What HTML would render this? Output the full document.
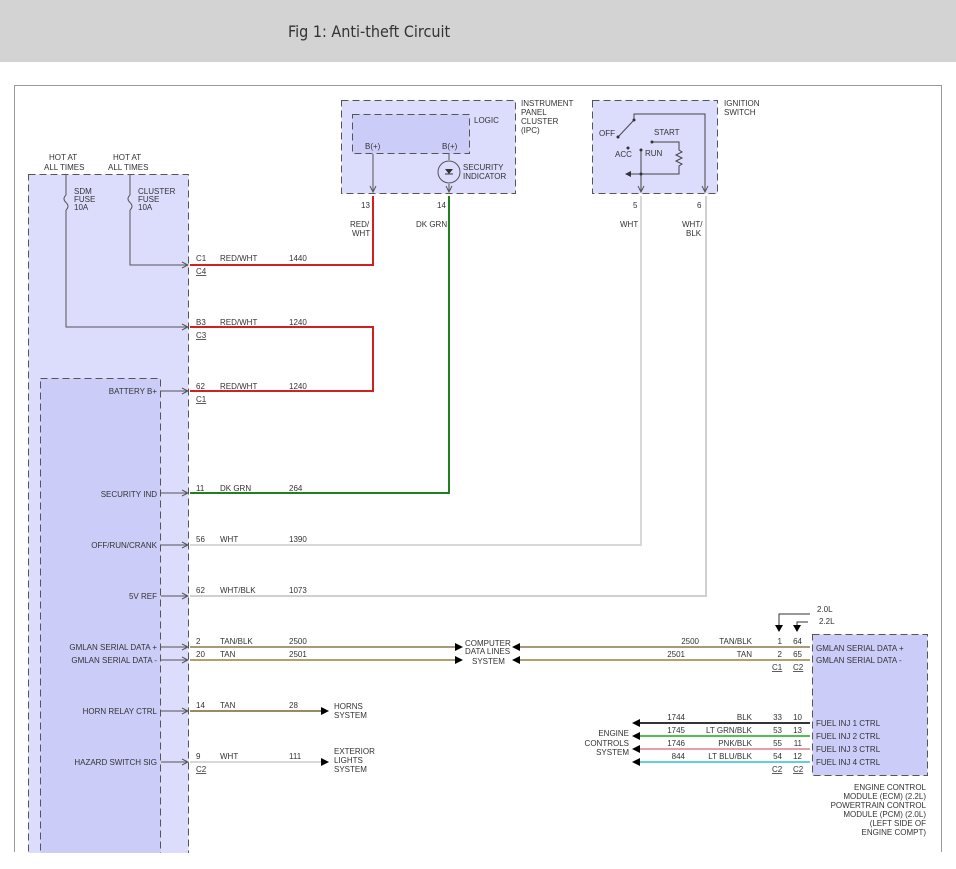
<!DOCTYPE html>
<html><head><style>
body{margin:0;width:956px;height:864px;background:#fff;overflow:hidden}
svg text{font-family:"Liberation Sans",sans-serif;font-size:8px;fill:#333}
</style></head><body>
<svg width="956" height="864" viewBox="0 0 956 864" xmlns="http://www.w3.org/2000/svg">
<defs>
<marker id="o" markerWidth="8" markerHeight="8" refX="7" refY="4" orient="auto" markerUnits="userSpaceOnUse"><path d="M1,1 L7,4 L1,7" fill="none" stroke="#555"/></marker>
</defs>
<rect x="0" y="0" width="956" height="62" fill="#d3d3d3"/>
<text x="288" y="37" style="fill:#333;font-family:'DejaVu Sans Condensed','DejaVu Sans',sans-serif;font-size:16px">Fig 1: Anti-theft Circuit</text>
<path d="M14.5,852 V85.5 H941.5 V852" fill="none" stroke="#999"/>

<rect x="28.5" y="174.5" width="160" height="690" fill="#dcdcfc" stroke="#555" stroke-dasharray="7,4"/>
<rect x="40.5" y="378.5" width="120" height="490" fill="#ccccf8" stroke="#555" stroke-dasharray="7,4"/>
<rect x="0" y="853" width="956" height="11" fill="#fff"/>
<text x="49" y="160">HOT AT</text><text x="44" y="170">ALL TIMES</text>
<text x="113" y="160">HOT AT</text><text x="108" y="170">ALL TIMES</text>
<path d="M66,174 V195 M66,210 V327 H188" stroke="#555" fill="none" marker-end="url(#o)"/>
<path d="M66,195 q-4,4 0,7.5 q4,4 0,7.5" stroke="#555" fill="none"/>
<path d="M130,174 V195 M130,210 V265 H188" stroke="#555" fill="none" marker-end="url(#o)"/>
<path d="M130,195 q-4,4 0,7.5 q4,4 0,7.5" stroke="#555" fill="none"/>
<text x="74" y="194">SDM</text><text x="74" y="202">FUSE</text><text x="74" y="210">10A</text>
<text x="138" y="194">CLUSTER</text><text x="138" y="202">FUSE</text><text x="138" y="210">10A</text>
<g stroke="#555" fill="none">
<path d="M161,391 H188" marker-end="url(#o)"/>
<path d="M161,493 H188" marker-end="url(#o)"/>
<path d="M161,545 H188" marker-end="url(#o)"/>
<path d="M161,596 H188" marker-end="url(#o)"/>
<path d="M161,647 H188" marker-end="url(#o)"/>
<path d="M161,660 H188" marker-end="url(#o)"/>
<path d="M161,711 H188" marker-end="url(#o)"/>
<path d="M161,762 H188" marker-end="url(#o)"/>
</g>
<g text-anchor="end">
<text x="157" y="394">BATTERY B+</text>
<text x="157" y="497">SECURITY IND</text>
<text x="157" y="548">OFF/RUN/CRANK</text>
<text x="157" y="599">5V REF</text>
<text x="157" y="650">GMLAN SERIAL DATA +</text>
<text x="157" y="663">GMLAN SERIAL DATA -</text>
<text x="157" y="714">HORN RELAY CTRL</text>
<text x="157" y="765">HAZARD SWITCH SIG</text>
</g>

<rect x="341.5" y="100.5" width="174" height="93" fill="#dcdcfc" stroke="#555" stroke-dasharray="7,4"/>
<rect x="352.5" y="114.5" width="117" height="39" fill="#ccccf8" stroke="#555" stroke-dasharray="7,4"/>
<text x="474" y="123">LOGIC</text>
<text x="365" y="149">B(+)</text><text x="442" y="149">B(+)</text>
<text x="521" y="106">INSTRUMENT</text><text x="521" y="115">PANEL</text><text x="521" y="124">CLUSTER</text><text x="521" y="133">(IPC)</text>
<path d="M373,154 V192" stroke="#555" fill="none" marker-end="url(#o)"/>
<path d="M449,154 V160 M449,184 V192" stroke="#555" fill="none" marker-end="url(#o)"/>
<circle cx="449" cy="172" r="11" fill="none" stroke="#555"/>
<path d="M445,169 h8 l-4,5 z" fill="#333"/><path d="M445,174 h8" stroke="#333"/>
<text x="463" y="170">SECURITY</text><text x="463" y="179">INDICATOR</text>
<text x="361" y="208">13</text><text x="437" y="208">14</text>
<text x="350" y="227">RED/</text><text x="352" y="236">WHT</text>
<text x="416" y="227">DK GRN</text>

<rect x="592.5" y="100.5" width="125" height="93" fill="#dcdcfc" stroke="#555" stroke-dasharray="7,4"/>
<text x="724" y="106">IGNITION</text><text x="724" y="115">SWITCH</text>
<g stroke="#444" fill="none">
<path d="M634,120 V114 H705 V192" marker-end="url(#o)"/>
<path d="M634,120 L618,137"/>
<path d="M641,150 V192" marker-end="url(#o)"/>
<path d="M652,142 H679 V150 l3,2 -6,3 6,3 -6,3 6,3 -3,2 V174 H626"/>
</g>
<path d="M625,174 l6,-3 v6 z" fill="#333"/>
<circle cx="634" cy="120" r="1.5" fill="#333"/><circle cx="618" cy="137" r="1.5" fill="#333"/>
<circle cx="628" cy="148" r="1.5" fill="#333"/><circle cx="641" cy="150" r="1.5" fill="#333"/>
<circle cx="652" cy="142" r="1.5" fill="#333"/><circle cx="641" cy="174" r="1.5" fill="#333"/>
<text x="599" y="136">OFF</text><text x="615" y="157">ACC</text><text x="645" y="156">RUN</text><text x="654" y="135">START</text>
<text x="633" y="208">5</text><text x="697" y="208">6</text>
<text x="620" y="227">WHT</text><text x="682" y="227">WHT/</text><text x="686" y="236">BLK</text>

<g fill="none" stroke-width="2">
<path d="M190,265 H373 V196" stroke="#d02020"/>
<path d="M190,327 H373 V391 H190" stroke="#d02020"/>
<path d="M190,493 H449 V196" stroke="#208020"/>
<path d="M190,545 H641 V196" stroke="#d8d8d8"/>
<path d="M190,596 H706 V196" stroke="#d0d0d0"/>
<path d="M190,647 H455" stroke="#a89a78"/>
<path d="M190,660 H455" stroke="#b0a070"/>
<path d="M520,647 H810" stroke="#a89a78"/>
<path d="M520,660 H810" stroke="#b0a070"/>
<path d="M190,711 H322" stroke="#9a8a60"/>
<path d="M190,762 H322" stroke="#d8d8d8"/>
<path d="M638,723 H810" stroke="#333"/>
<path d="M638,736 H810" stroke="#50c050"/>
<path d="M638,749 H810" stroke="#e0a0b0"/>
<path d="M638,762 H810" stroke="#60d0e0"/>
</g>
<g fill="#000">
<path d="M455,643 l8,4 -8,4z"/><path d="M455,656 l8,4 -8,4z"/>
<path d="M520,643 l-8,4 8,4z"/><path d="M520,656 l-8,4 8,4z"/>
<path d="M321,707 l8,4 -8,4z"/><path d="M321,758 l8,4 -8,4z"/>
<path d="M640,719 l-8,4 8,4z"/><path d="M640,732 l-8,4 8,4z"/><path d="M640,745 l-8,4 8,4z"/><path d="M640,758 l-8,4 8,4z"/>
</g>
<text x="196" y="261">C1</text><text x="196" y="274" text-decoration="underline">C4</text>
<text x="220" y="261">RED/WHT</text><text x="289" y="261">1440</text>
<text x="196" y="325">B3</text><text x="196" y="338" text-decoration="underline">C3</text>
<text x="220" y="325">RED/WHT</text><text x="289" y="325">1240</text>
<text x="196" y="389">62</text><text x="196" y="402" text-decoration="underline">C1</text>
<text x="220" y="389">RED/WHT</text><text x="289" y="389">1240</text>
<text x="196" y="491">11</text><text x="220" y="491">DK GRN</text><text x="289" y="491">264</text>
<text x="196" y="542">56</text><text x="220" y="542">WHT</text><text x="289" y="542">1390</text>
<text x="196" y="593">62</text><text x="220" y="593">WHT/BLK</text><text x="289" y="593">1073</text>
<text x="196" y="644">2</text><text x="220" y="644">TAN/BLK</text><text x="289" y="644">2500</text>
<text x="196" y="657">20</text><text x="220" y="657">TAN</text><text x="289" y="657">2501</text>
<text x="196" y="708">14</text><text x="220" y="708">TAN</text><text x="289" y="708">28</text>
<text x="196" y="759">9</text><text x="196" y="772" text-decoration="underline">C2</text>
<text x="220" y="759">WHT</text><text x="289" y="759">111</text>
<text x="465" y="646">COMPUTER</text><text x="465" y="654">DATA LINES</text><text x="472" y="664">SYSTEM</text>
<text x="334" y="709">HORNS</text><text x="334" y="718">SYSTEM</text>
<text x="334" y="754">EXTERIOR</text><text x="334" y="763">LIGHTS</text><text x="334" y="772">SYSTEM</text>

<rect x="812.5" y="634.5" width="115" height="141" fill="#ccccf8" stroke="#555" stroke-dasharray="7,4"/>
<text x="816" y="651">GMLAN SERIAL DATA +</text><text x="816" y="663">GMLAN SERIAL DATA -</text>
<text x="816" y="726">FUEL INJ 1 CTRL</text><text x="816" y="739">FUEL INJ 2 CTRL</text>
<text x="816" y="752">FUEL INJ 3 CTRL</text><text x="816" y="765">FUEL INJ 4 CTRL</text>
<path d="M779,626 V614 H810" stroke="#333" fill="none"/>
<path d="M797,626 V622 H808" stroke="#333" fill="none"/>
<path d="M775,625 l4,7 4,-7z M793,625 l4,7 4,-7z" fill="#000"/>
<text x="817" y="612">2.0L</text><text x="819" y="624">2.2L</text>
<g text-anchor="end">
<text x="699" y="644">2500</text><text x="752" y="644">TAN/BLK</text><text x="782" y="644">1</text><text x="802" y="644">64</text>
<text x="685" y="657">2501</text><text x="752" y="657">TAN</text><text x="782" y="657">2</text><text x="802" y="657">65</text>
<text x="685" y="720">1744</text><text x="752" y="720">BLK</text><text x="782" y="720">33</text><text x="802" y="720">10</text>
<text x="685" y="733">1745</text><text x="752" y="733">LT GRN/BLK</text><text x="782" y="733">53</text><text x="802" y="733">13</text>
<text x="685" y="746">1746</text><text x="752" y="746">PNK/BLK</text><text x="782" y="746">55</text><text x="802" y="746">11</text>
<text x="685" y="759">844</text><text x="752" y="759">LT BLU/BLK</text><text x="782" y="759">54</text><text x="802" y="759">12</text>
<text x="629" y="736">ENGINE</text><text x="629" y="746">CONTROLS</text><text x="629" y="755">SYSTEM</text>
<text x="926" y="790">ENGINE CONTROL</text><text x="926" y="799">MODULE (ECM) (2.2L)</text>
<text x="926" y="808">POWERTRAIN CONTROL</text><text x="926" y="817">MODULE (PCM) (2.0L)</text>
<text x="926" y="826">(LEFT SIDE OF</text><text x="926" y="835">ENGINE COMPT)</text>
</g>
<text x="772" y="670" text-decoration="underline">C1</text><text x="793" y="670" text-decoration="underline">C2</text>
<text x="772" y="772" text-decoration="underline">C2</text><text x="793" y="772" text-decoration="underline">C2</text>
</svg>
</body></html>
